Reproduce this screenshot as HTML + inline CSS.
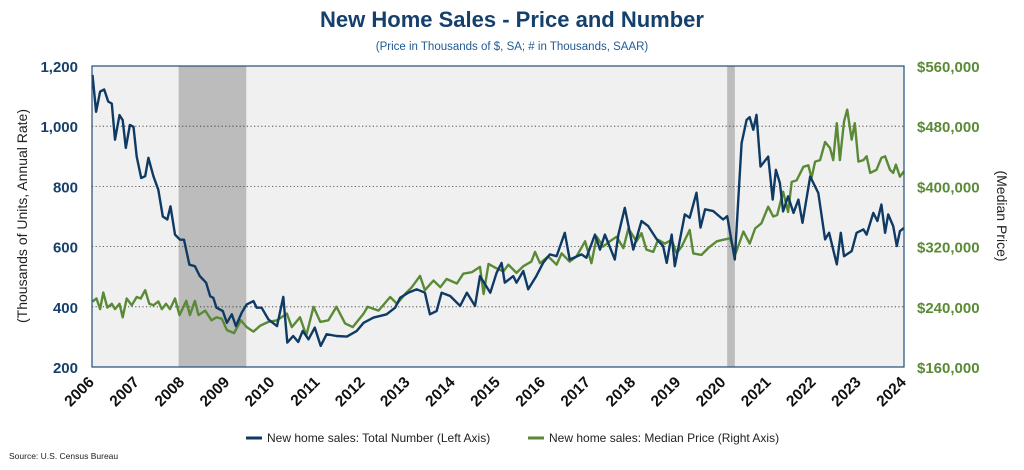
<!DOCTYPE html>
<html><head><meta charset="utf-8"><style>
body{margin:0;background:#fff;width:1024px;height:465px;overflow:hidden;font-family:"Liberation Sans",sans-serif}
</style></head><body>
<svg id="chart" width="1024" height="465" viewBox="0 0 1024 465" xmlns="http://www.w3.org/2000/svg" font-family="Liberation Sans, sans-serif">
<text x="512" y="27" text-anchor="middle" font-size="22" font-weight="bold" fill="#15406b">New Home Sales - Price and Number</text>
<text x="512" y="50" text-anchor="middle" font-size="11.5" fill="#1f5a94">(Price in Thousands of $, SA; # in Thousands, SAAR)</text>
<rect x="92" y="66" width="812" height="301" fill="#f0f0f0"/>
<g id="rec"></g><g id="grid"></g><g id="ticks"></g><g id="lines"></g>
<rect x="92" y="66" width="812" height="301" fill="none" stroke="#1f4e79" stroke-width="1.2"/>
<text transform="translate(27,216) rotate(-90)" text-anchor="middle" font-size="14" fill="#222">(Thousands of Units, Annual Rate)</text>
<text transform="translate(997,216) rotate(90)" text-anchor="middle" font-size="14" fill="#222">(Median Price)</text>
<g>
<line x1="246" y1="438" x2="262" y2="438" stroke="#0f3a63" stroke-width="3"/>
<text x="267" y="442" font-size="12" fill="#222">New home sales: Total Number (Left Axis)</text>
<line x1="528" y1="438" x2="544" y2="438" stroke="#5a8a36" stroke-width="3"/>
<text x="549" y="442" font-size="12" fill="#222">New home sales: Median Price (Right Axis)</text>
</g>
<text x="9" y="459" font-size="8.5" fill="#222">Source: U.S. Census Bureau</text>
</svg>
<script>
const years=[2006,2007,2008,2009,2010,2011,2012,2013,2014,2015,2016,2017,2018,2019,2020,2021,2022,2023,2024];
const leftTicks=[200,400,600,800,1000,1200];
const rightTicks=[160000,240000,320000,400000,480000,560000];
const recessions=[[2007.92,2009.42],[2020.08,2020.25]];
const salesDates=[2006.01,2006.09,2006.18,2006.27,2006.36,2006.44,2006.51,2006.61,2006.68,2006.75,2006.84,2006.92,2006.99,2007.09,2007.18,2007.25,2007.36,2007.47,2007.57,2007.67,2007.74,2007.84,2007.95,2008.04,2008.16,2008.28,2008.39,2008.53,2008.62,2008.69,2008.76,2008.9,2008.99,2009.1,2009.19,2009.32,2009.43,2009.58,2009.65,2009.76,2009.91,2010.1,2010.24,2010.33,2010.46,2010.57,2010.67,2010.8,2010.94,2011.07,2011.2,2011.42,2011.65,2011.87,2012.02,2012.24,2012.53,2012.72,2012.83,2013.01,2013.2,2013.38,2013.49,2013.64,2013.75,2013.94,2014.16,2014.31,2014.49,2014.6,2014.83,2014.97,2015.08,2015.15,2015.34,2015.41,2015.56,2015.67,2015.85,2016.0,2016.15,2016.3,2016.48,2016.59,2016.85,2016.96,2017.15,2017.26,2017.37,2017.59,2017.67,2017.81,2018.0,2018.18,2018.33,2018.52,2018.66,2018.74,2018.85,2018.92,2019.14,2019.25,2019.4,2019.49,2019.59,2019.77,2019.99,2020.08,2020.25,2020.4,2020.51,2020.58,2020.66,2020.73,2020.82,2020.99,2021.09,2021.16,2021.25,2021.32,2021.43,2021.55,2021.66,2021.75,2021.92,2022.1,2022.25,2022.34,2022.51,2022.6,2022.67,2022.84,2022.95,2023.1,2023.17,2023.32,2023.41,2023.5,2023.58,2023.65,2023.76,2023.84,2023.91,2024.0];
const salesValues=[1170,1048,1115,1122,1082,1075,955,1037,1020,928,1004,998,899,828,834,895,834,789,700,690,734,640,623,623,540,535,502,480,435,430,397,386,347,375,336,381,408,419,397,397,358,336,433,281,303,283,320,292,331,270,309,303,301,320,347,364,375,397,430,447,458,447,375,386,447,436,403,447,403,502,447,513,546,480,502,480,519,458,502,546,574,568,646,557,574,563,640,590,640,557,640,729,590,685,668,624,602,546,640,535,707,696,779,663,724,718,690,701,557,944,1021,1030,988,1038,866,899,756,855,811,717,767,712,756,679,833,778,624,646,541,646,568,585,646,657,640,712,685,740,646,707,668,602,651,662];
const priceDates=[2006.01,2006.1,2006.18,2006.25,2006.34,2006.44,2006.51,2006.61,2006.68,2006.77,2006.88,2006.99,2007.08,2007.18,2007.27,2007.36,2007.47,2007.55,2007.64,2007.73,2007.84,2007.94,2008.09,2008.17,2008.28,2008.36,2008.51,2008.65,2008.76,2008.88,2008.99,2009.15,2009.3,2009.43,2009.58,2009.73,2009.91,2010.1,2010.32,2010.43,2010.61,2010.75,2010.91,2011.06,2011.24,2011.42,2011.61,2011.78,2012.02,2012.11,2012.35,2012.61,2012.76,2012.94,2013.09,2013.27,2013.38,2013.57,2013.72,2013.86,2014.09,2014.23,2014.42,2014.6,2014.68,2014.79,2014.97,2015.12,2015.23,2015.41,2015.56,2015.74,2015.82,2015.93,2016.11,2016.3,2016.41,2016.59,2016.74,2016.93,2017.07,2017.19,2017.33,2017.48,2017.63,2017.78,2017.89,2018.07,2018.18,2018.29,2018.44,2018.55,2018.7,2018.85,2018.96,2019.07,2019.25,2019.33,2019.51,2019.66,2019.85,2019.99,2020.14,2020.27,2020.44,2020.58,2020.7,2020.84,2020.99,2021.1,2021.19,2021.32,2021.43,2021.51,2021.62,2021.77,2021.88,2021.95,2022.03,2022.14,2022.25,2022.36,2022.43,2022.51,2022.58,2022.67,2022.74,2022.84,2022.91,2022.99,2023.1,2023.17,2023.25,2023.39,2023.5,2023.58,2023.69,2023.76,2023.82,2023.91,2024.0];
const priceValues=[247,251,237,259,239,244,237,244,226,251,242,253,251,262,244,242,247,237,244,237,251,229,248,229,248,229,235,222,226,224,209,205,222,213,207,215,220,222,231,213,226,202,240,220,222,240,218,213,231,240,235,253,244,257,266,281,262,275,266,277,271,284,286,293,257,297,291,287,296,285,294,300,313,298,307,296,311,300,307,327,298,333,320,327,333,318,344,327,338,316,313,329,324,329,311,320,342,311,309,318,327,329,331,311,340,324,344,351,373,360,362,393,366,406,408,426,428,411,433,435,459,451,435,484,435,486,502,462,484,433,435,440,418,422,438,440,422,418,429,413,420];

const X0=92,X1=904,Y0=367,Y1=66;
const xs=t=>X0+(t-2006)/(2024-2006)*(X1-X0);
const yl=v=>Y0-(v-200)/(1200-200)*(Y0-Y1);
const yr=v=>Y0-(v-160)/(560-160)*(Y0-Y1);
const NS='http://www.w3.org/2000/svg';
function mk(tag,parent,attrs){const e=document.createElementNS(NS,tag);for(const k in attrs)e.setAttribute(k,attrs[k]);parent.appendChild(e);return e;}
const rec=document.getElementById('rec'),grid=document.getElementById('grid'),ticks=document.getElementById('ticks'),lines=document.getElementById('lines');
recessions.forEach(r=>{const e=mk('rect',rec,{x:xs(r[0]),y:Y1,width:xs(r[1])-xs(r[0]),height:Y0-Y1,fill:'#bcbcbc'});

});
leftTicks.forEach(v=>{const y=yl(v);
if(v>200&&v<1200){const g=mk('line',grid,{x1:X0,x2:X1,y1:y,y2:y,stroke:'#333','stroke-width':0.8,'stroke-dasharray':'1.2,2.4'});

}
const t=mk('text',ticks,{x:78,y:y+6,'text-anchor':'end','font-size':15,'font-weight':'bold',fill:'#15406b'});t.textContent=v.toLocaleString('en-US');

});
rightTicks.forEach(v=>{const y=yr(v/1000);
const t=mk('text',ticks,{x:917,y:y+6,'font-size':15,'font-weight':'bold',fill:'#5a8a36'});t.textContent='$'+v.toLocaleString('en-US');

});
years.forEach(yv=>{const x=xs(yv);
const t=mk('text',ticks,{transform:`translate(${x+3},${Y0+16}) rotate(-45)`,'text-anchor':'end','font-size':15.5,'font-weight':'bold',fill:'#111'});t.textContent=yv;

});
function path(d,v,fy){return d.map((t,i)=>(i?'L':'M')+xs(t).toFixed(1)+','+fy(v[i]).toFixed(1)).join('');}
const pp=mk('path',lines,{d:path(priceDates,priceValues,yr),fill:'none',stroke:'#5a8a36','stroke-width':2.4,'stroke-linejoin':'round'});


const sp=mk('path',lines,{d:path(salesDates,salesValues,yl),fill:'none',stroke:'#0f3a63','stroke-width':2.4,'stroke-linejoin':'round'});


</script>
</body></html>
